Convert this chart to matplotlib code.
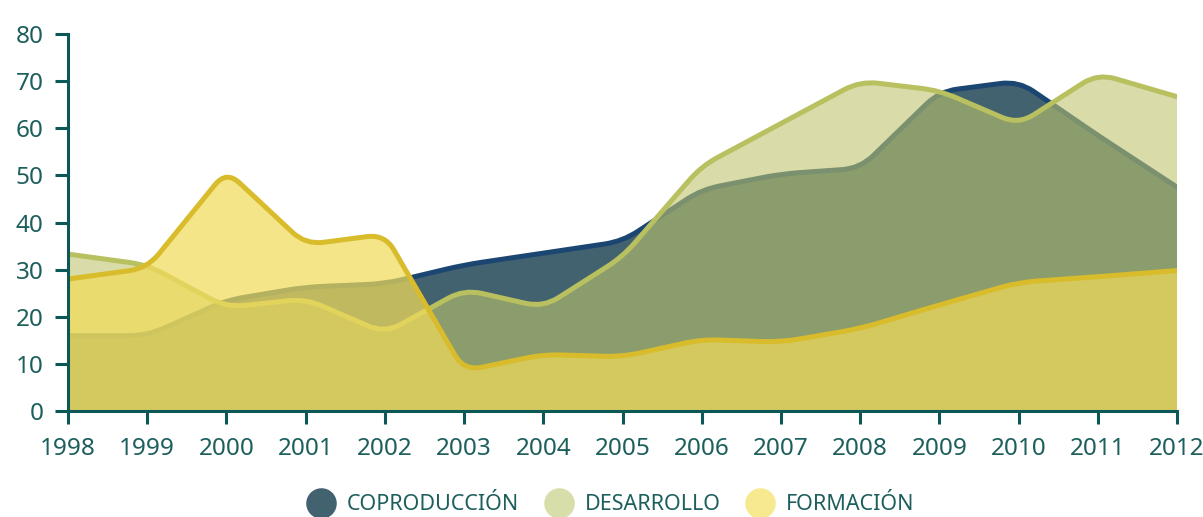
import numpy as np
import matplotlib
matplotlib.use("Agg")
import matplotlib.pyplot as plt
from matplotlib.path import Path
from matplotlib.patches import PathPatch
from matplotlib.lines import Line2D

plt.rcParams['font.family'] = ['Noto Sans', 'DejaVu Sans']

# datos
years = [1998, 1999, 2000, 2001, 2002, 2003, 2004, 2005, 2006, 2007, 2008, 2009, 2010, 2011, 2012]
coproduccion = [16, 16, 23.5, 26.3, 27, 31, 33.5, 36, 47, 50.3, 51.5, 67.8, 70, 58.5, 47.5]
desarrollo = [33.3, 31, 22, 23.8, 16.5, 25.8, 22, 32.7, 52, 61, 70, 68, 60.8, 71.6, 66.7]
formacion = [28, 30.3, 51, 35.3, 37.5, 8.5, 12, 11.5, 15.2, 14.6, 17.5, 22.5, 27.3, 28.5, 29.8]
labels = ['COPRODUCCIÓN', 'DESARROLLO', 'FORMACIÓN']

teal = '#0b5857'
text_col = '#1d5f5c'

# escala aproximada en pixeles, solo para redondear las esquinas
SX = 79.2
SY = 4.7125


def rounded_verts(xs, ys, r=18):
    p = np.column_stack([np.asarray(xs, float) * SX, np.asarray(ys, float) * SY])
    verts = [p[0]]
    codes = [Path.MOVETO]
    for i in range(1, len(p) - 1):
        a, v, b = p[i - 1], p[i], p[i + 1]
        la = np.linalg.norm(v - a)
        lb = np.linalg.norm(b - v)
        ra = min(r, 0.5 * la)
        rb = min(r, 0.5 * lb)
        pa = v + (a - v) / la * ra
        pb = v + (b - v) / lb * rb
        verts += [pa, v, pb]
        codes += [Path.LINETO, Path.CURVE3, Path.CURVE3]
    verts.append(p[-1])
    codes.append(Path.LINETO)
    verts = np.array(verts) / [SX, SY]
    return verts, codes


def draw_area(ax, xs, ys, fill, alpha, line, lw=3.6):
    verts, codes = rounded_verts(xs, ys)
    line_path = Path(verts, codes)
    fverts = np.vstack([verts, [[xs[-1], 0], [xs[0], 0], [xs[0], 0]]])
    fcodes = codes + [Path.LINETO, Path.LINETO, Path.CLOSEPOLY]
    ax.add_patch(PathPatch(Path(fverts, fcodes), facecolor=fill, alpha=alpha, edgecolor='none'))
    ax.add_patch(PathPatch(line_path, fill=False, edgecolor=line, lw=lw,
                           joinstyle='round', capstyle='round'))


fig = plt.figure(figsize=(12.03, 5.17), dpi=100)
ax = fig.add_axes([68 / 1203, 1 - 411 / 517, (1177 - 68) / 1203, (411 - 34) / 517])
ax.set_xlim(1998, 2012)
ax.set_ylim(0, 80)

draw_area(ax, years, coproduccion, '#43626f', 1.0, '#1b4671')
draw_area(ax, years, desarrollo, '#bfc56c', 0.59, '#b8c060')
draw_area(ax, years, formacion, '#f1db5a', 0.72, '#d9bc2b')

ax.set_xticks(years)
ax.set_yticks(range(0, 81, 10))
for s in ['top', 'right']:
    ax.spines[s].set_visible(False)
for s in ['left', 'bottom']:
    ax.spines[s].set_color(teal)
    ax.spines[s].set_linewidth(2.2)
    ax.spines[s].set_zorder(5)
ax.tick_params(axis='both', direction='out', length=9.5, width=2.2, color=teal,
               labelcolor=text_col, labelsize=17.5)
ax.tick_params(axis='y', pad=8)
ax.tick_params(axis='x', pad=9)

handles = [Line2D([], [], ls='none', marker='o', markersize=22, markeredgewidth=0, color=c)
           for c in ['#43626f', '#d8dea9', '#f7e98f']]
fig.legend(handles, labels, loc='center', bbox_to_anchor=(0.509, 1 - 505 / 517), ncol=3,
           frameon=False, fontsize=15.5, labelcolor=text_col, handlelength=1.0,
           handletextpad=0.7, columnspacing=1.35, borderpad=0)

fig.savefig('out.png', dpi=100)
